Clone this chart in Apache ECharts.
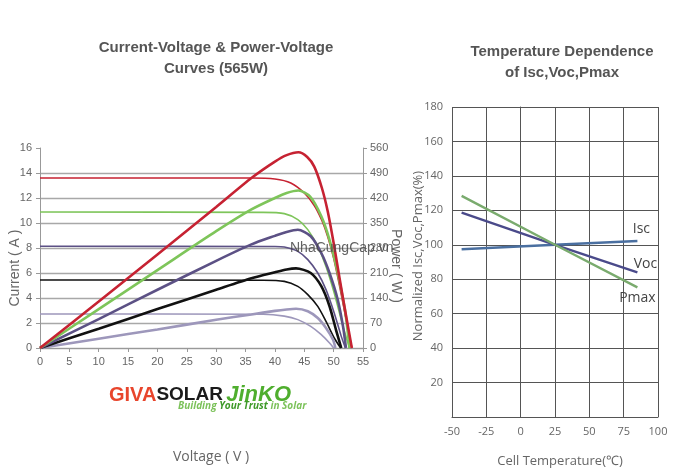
<!DOCTYPE html>
<html><head><meta charset="utf-8">
<script src="https://cdn.jsdelivr.net/npm/echarts@6/dist/echarts.min.js"></script>
<style>html,body{margin:0;padding:0;background:#fff}#c{width:700px;height:476px}</style>
</head><body><div id="c"></div>
<script>
// ---- Left chart: I-V (A) and P-V (W) curves, [voltage, value] ----
const ivRed    = [[0,13.6],[36,13.6],[40,13.52],[42.7,13.2],[45,12.4],[46.7,11.4],[48,10.2],[49,8.9],[50,7.2],[51,5.0],[52,2.6],[53.1,0]];
const ivGreen  = [[0,10.88],[38,10.85],[41.6,10.75],[43.9,10.27],[45.6,9.47],[47.3,8.13],[48.7,6.53],[50.1,4.4],[51.6,1.73],[52.7,0]];
const ivPurple = [[0,8.14],[40,8.12],[41.6,8.08],[43.9,7.73],[45.6,7.07],[47.3,6.0],[48.7,4.67],[50.1,2.8],[51.3,0.93],[52.0,0]];
const ivBlack  = [[0,5.44],[38,5.42],[41.6,5.33],[43.9,4.93],[45.6,4.27],[47.3,3.33],[48.7,2.13],[50.1,0.8],[51.2,0]];
const ivLilac  = [[0,2.72],[38,2.7],[41.6,2.55],[43.9,2.27],[46.1,1.73],[47.9,1.07],[49.3,0.4],[50.0,0]];

const pvRed    = [[0,0],[10,130],[20,262],[30,395],[36,476],[40,522],[42,540],[44,548],[45.5,535],[46.7,508],[48,448],[49,382],[50,294],[51,196],[52,101],[53.1,0]];
const pvGreen  = [[0,0],[10,109],[20,218],[30,327],[36,388],[40,420],[42,434],[44,441],[46,424],[47.9,369],[49.3,303],[50.7,210],[51.9,110],[52.3,60],[52.7,0]];
const pvPurple = [[0,0],[10,81],[20,163],[30,244],[36,290],[40,314],[42,325],[43.9,331],[46.1,313],[47.9,266],[49.3,210],[50.7,135],[51.6,60],[52.1,0]];
const pvBlack  = [[0,0],[10,54],[20,109],[30,163],[36,195],[40,212],[42,220],[43.6,223],[46.1,210],[47.9,173],[49.3,117],[50.4,51],[51.3,0]];
const pvLilac  = [[0,0],[10,26],[20,52],[30,79],[36,94],[40,104],[42,108],[43.6,110],[45.6,103],[47.3,84],[48.7,56],[49.9,23],[50.3,0]];

// ---- Right chart: temperature dependence, [°C, %] ----
const tIsc  = [[-43,97.4],[25,100],[85,102.2]];
const tVoc  = [[-43,118.7],[25,100],[85,84]];
const tPmax = [[-43,128.4],[25,100],[85,75.3]];

const colors = {red:'#c62232', green:'#7ec55a', purple:'#5c5185', black:'#111111', lilac:'#9d97bb'};

const chart = echarts.init(document.getElementById('c'), null, {renderer:'canvas'});

function iv(data, c){ return {type:'line', xAxisIndex:0, yAxisIndex:0, data, smooth:0.25, symbol:'none', lineStyle:{color:c, width:1.6}, z:3}; }
function pv(data, c){ return {type:'line', xAxisIndex:0, yAxisIndex:1, data, smooth:0.25, symbol:'none', lineStyle:{color:c, width:2.6}, z:4}; }
function lastLabel(data, text, pos, off){
  return data.map((d,i)=> i===data.length-1 ? {value:d, label:{show:true, formatter:text, position:pos, offset:off, color:'#444', fontSize:14, fontFamily:'Open Sans'}} : d);
}
function tl(data, c, text, pos, off){ return {type:'line', xAxisIndex:1, yAxisIndex:2, data:lastLabel(data,text,pos,off), symbol:'circle', symbolSize:0.01, showSymbol:true, itemStyle:{color:c}, lineStyle:{color:c, width:2.4}, z:4}; }

const tickFont = {color:'#666', fontSize:11, fontFamily:'Liberation Sans'};
const rFont = {color:'#666', fontSize:11, fontFamily:'Open Sans'};

chart.setOption({
  animation:false,
  backgroundColor:'#fff',
  title:[
    {text:'Current-Voltage & Power-Voltage\nCurves (565W)', left:211, top:32, textAlign:'center',
     textStyle:{color:'#555', fontSize:15, fontWeight:'bold', fontFamily:'Liberation Sans', lineHeight:21}},
    {text:'Temperature Dependence\nof Isc,Voc,Pmax', left:557, top:36, textAlign:'center',
     textStyle:{color:'#555', fontSize:15, fontWeight:'bold', fontFamily:'Liberation Sans', lineHeight:21}}
  ],
  grid:[
    {left:40, top:148, width:323, height:200},
    {left:452, top:107, width:206, height:310}
  ],
  xAxis:[
    {gridIndex:0, type:'value', min:0, max:55, interval:5,
     axisLine:{lineStyle:{color:'#999', width:1}}, axisTick:{show:true, length:4, lineStyle:{color:'#999'}},
     axisLabel:{...tickFont, margin:8}, splitLine:{show:false}},
    {gridIndex:1, type:'value', min:-50, max:100, interval:25,
     axisLine:{lineStyle:{color:'#555', width:1}}, axisTick:{show:false},
     axisLabel:{...rFont, margin:9}, splitLine:{show:true, lineStyle:{color:'#555', width:1}}}
  ],
  yAxis:[
    {gridIndex:0, type:'value', min:0, max:16, interval:2, position:'left',
     axisLine:{show:true, lineStyle:{color:'#999'}}, axisTick:{show:true, length:4, lineStyle:{color:'#999'}},
     axisLabel:{...tickFont, margin:8},
     splitLine:{show:true, showMaxLine:false, lineStyle:{color:'#a8a8a8', width:1.4}}},
    {gridIndex:0, type:'value', min:0, max:560, interval:70, position:'right',
     axisLine:{show:true, lineStyle:{color:'#999'}}, axisTick:{show:true, length:4, lineStyle:{color:'#999'}},
     axisLabel:{...tickFont, margin:7}, splitLine:{show:false}},
    {gridIndex:1, type:'value', min:0, max:180, interval:20,
     axisLine:{show:true, lineStyle:{color:'#555'}}, axisTick:{show:false},
     axisLabel:{...rFont, margin:9, formatter:v=> v===0 ? '' : v},
     splitLine:{show:true, lineStyle:{color:'#555', width:1}}}
  ],
  series:[
    iv(ivLilac, colors.lilac), iv(ivBlack, colors.black), iv(ivPurple, colors.purple), iv(ivGreen, colors.green), iv(ivRed, colors.red),
    pv(pvLilac, colors.lilac), pv(pvBlack, colors.black), pv(pvPurple, colors.purple), pv(pvGreen, colors.green), pv(pvRed, colors.red),
    tl(tIsc, '#4a6fa0', 'Isc', 'top', [4,0]),
    tl(tVoc, '#4a4a8a', 'Voc', 'top', [8,4]),
    tl(tPmax, '#7aab6e', 'Pmax', 'bottom', [0,-1])
  ],
  graphic:[
    {type:'text', x:15, y:268, rotation:Math.PI/2, style:{text:'Current ( A )', fill:'#666', font:'14px "Liberation Sans"', align:'center', verticalAlign:'middle'}},
    {type:'text', x:396, y:266, rotation:-Math.PI/2, style:{text:'Power ( W )', fill:'#666', font:'14px "Liberation Sans"', align:'center', verticalAlign:'middle'}},
    {type:'text', x:211, y:457, style:{text:'Voltage ( V )', fill:'#666', font:'14px "Open Sans"', align:'center', verticalAlign:'middle'}},
    {type:'text', x:418, y:256, rotation:Math.PI/2, style:{text:'Normalized Isc,Voc,Pmax(%)', fill:'#666', font:'13px "Open Sans"', align:'center', verticalAlign:'middle'}},
    {type:'text', x:560, y:461, style:{text:'Cell Temperature(℃)', fill:'#666', font:'13px "Open Sans"', align:'center', verticalAlign:'middle'}},
    {type:'text', x:290, y:248, z:10, style:{text:'NhaCungCap.vn', fill:'rgba(70,70,70,0.85)', font:'14px "Liberation Sans"', verticalAlign:'middle'}},
    {type:'text', x:109, y:384, style:{
      text:'{g|GIVA}{s|SOLAR} {j|JinKO}',
      rich:{
        g:{fill:'#e8452c', font:'bold 20px "Liberation Sans"'},
        s:{fill:'#1a1a1a', font:'bold 19px "Liberation Sans"'},
        j:{fill:'#4fae2e', font:'italic bold 22px "Liberation Sans"'}
      }}},
    {type:'text', x:178, y:401, style:{
      text:'{a|Building }{b|Your Trust}{a| in Solar}',
      rich:{
        a:{fill:'#7cc25a', font:'italic bold 10px "Open Sans"'},
        b:{fill:'#3f9a2a', font:'italic bold 10px "Open Sans"'}
      }}}
  ]
});
</script></body></html>
